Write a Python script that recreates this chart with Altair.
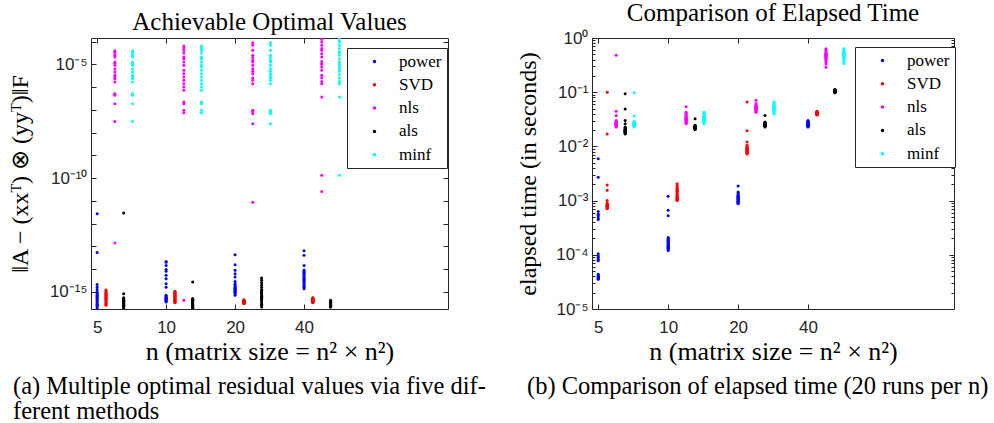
import altair as alt
import pandas as pd

N_VALUES = [5, 10, 20, 40]
METHODS = ["power", "SVD", "nls", "als", "minf"]
COLORS = ["#0000ff", "#ff0000", "#ff00ff", "#000000", "#00ffff"]

# ---- panel (a): log10 of the residual norm, 20 runs for n = 5, 10, 20, 40 ----
res_power = [
    [-11.57, -13.27, -14.68, -14.80, -14.90, -15.00, -15.05, -15.10, -15.15, -15.20, -15.25, -15.30, -15.35, -15.40, -15.45, -15.50, -15.55, -15.60, -15.65, -15.72],
    [-13.67, -13.70, -13.85, -14.02, -14.10, -14.27, -14.43, -14.65, -14.80, -15.16, -15.20, -15.25, -15.28, -15.30, -15.33, -15.36, -15.40, -15.42, -15.45, -15.30],
    [-13.37, -13.81, -14.06, -14.21, -14.35, -14.55, -14.65, -14.70, -14.80, -14.85, -14.90, -14.95, -15.00, -15.05, -15.10, -15.16, -14.75, -14.88, -14.97, -15.02],
    [-13.20, -13.40, -13.85, -14.05, -14.10, -14.15, -14.20, -14.30, -14.35, -14.45, -14.50, -14.60, -14.65, -14.75, -14.87, -14.25, -14.40, -14.55, -14.70, -14.80],
]
res_svd = [
    [-14.92, -14.96, -15.00, -15.04, -15.08, -15.12, -15.16, -15.20, -15.24, -15.28, -15.32, -15.36, -15.40, -15.44, -15.48, -15.52, -15.56, -15.60, -15.10, -15.30],
    [-14.98, -15.02, -15.05, -15.08, -15.10, -15.13, -15.16, -15.19, -15.22, -15.25, -15.28, -15.31, -15.34, -15.37, -15.40, -15.43, -15.46, -15.48, -15.20, -15.30],
    [-15.35, -15.37, -15.39, -15.40, -15.42, -15.43, -15.44, -15.45, -15.46, -15.47, -15.48, -15.49, -15.50, -15.51, -15.52, -15.53, -15.45, -15.47, -15.44, -15.50],
    [-15.26, -15.28, -15.30, -15.32, -15.33, -15.35, -15.36, -15.38, -15.39, -15.40, -15.41, -15.42, -15.43, -15.44, -15.45, -15.46, -15.47, -15.48, -15.34, -15.40],
]
res_nls = [
    [-4.40, -4.45, -4.49, -4.60, -4.68, -4.90, -4.95, -5.04, -5.20, -5.34, -5.48, -5.55, -5.63, -5.78, -6.29, -6.30, -6.36, -6.73, -7.51, -12.86],
    [-4.19, -4.28, -4.38, -4.50, -4.68, -4.75, -4.90, -5.04, -5.26, -5.41, -5.56, -5.70, -5.85, -6.00, -6.14, -6.66, -6.73, -7.02, -7.13, -15.38],
    [-4.05, -4.16, -4.38, -4.60, -4.70, -4.82, -4.90, -5.04, -5.19, -5.30, -5.41, -5.60, -5.70, -5.85, -7.02, -7.05, -7.10, -7.17, -7.61, -11.06],
    [-3.84, -3.90, -4.02, -4.16, -4.30, -4.38, -4.53, -4.68, -4.87, -4.97, -5.00, -5.12, -5.26, -5.48, -5.60, -5.75, -5.85, -6.44, -9.88, -10.59],
]
res_als = [
    [-11.54, -15.09, -15.26, -15.30, -15.35, -15.40, -15.45, -15.50, -15.55, -15.60, -15.65, -15.70, -15.75, -15.32, -15.42, -15.52, -15.62, -15.72, -15.38, -15.48],
    [-14.57, -15.30, -15.35, -15.40, -15.45, -15.50, -15.55, -15.60, -15.65, -15.70, -15.75, -15.33, -15.43, -15.53, -15.63, -15.73, -15.38, -15.48, -15.58, -15.68],
    [-14.40, -14.50, -14.60, -14.70, -14.80, -14.90, -15.00, -15.05, -15.10, -15.15, -15.20, -15.25, -15.30, -15.40, -15.50, -15.55, -15.60, -15.67, -14.95, -15.35],
    [-15.38, -15.40, -15.42, -15.44, -15.46, -15.48, -15.50, -15.52, -15.54, -15.56, -15.58, -15.60, -15.62, -15.64, -15.66, -15.67, -15.45, -15.53, -15.57, -15.61],
]
res_minf = [
    [-4.40, -4.45, -4.49, -4.60, -4.68, -4.90, -4.95, -5.00, -5.04, -5.20, -5.34, -5.48, -5.55, -5.63, -5.78, -6.29, -6.30, -6.36, -6.73, -7.51],
    [-4.19, -4.28, -4.38, -4.50, -4.68, -4.75, -4.90, -5.04, -5.10, -5.26, -5.41, -5.56, -5.70, -5.85, -6.00, -6.14, -6.66, -6.73, -7.02, -7.13],
    [-4.05, -4.16, -4.38, -4.60, -4.70, -4.82, -4.90, -5.04, -5.19, -5.30, -5.41, -5.50, -5.60, -5.70, -5.85, -7.02, -7.05, -7.10, -7.17, -7.61],
    [-3.84, -3.95, -4.02, -4.16, -4.30, -4.45, -4.50, -4.60, -4.75, -4.90, -5.00, -5.10, -5.20, -5.30, -5.45, -5.60, -5.75, -5.85, -6.44, -9.88],
]

# ---- panel (b): log10 of elapsed seconds, 20 runs for n = 5, 10, 20, 40 ----
time_power = [
    [-2.23, -2.57, -3.20, -3.25, -3.28, -3.32, -3.35, -3.98, -4.02, -4.05, -4.08, -4.11, -4.36, -4.38, -4.40, -4.41, -4.42, -4.43, -4.44, -4.45],
    [-2.92, -3.18, -3.28, -3.68, -3.70, -3.72, -3.74, -3.75, -3.76, -3.78, -3.79, -3.80, -3.82, -3.83, -3.84, -3.86, -3.87, -3.88, -3.90, -3.92],
    [-2.73, -2.84, -2.86, -2.88, -2.90, -2.92, -2.94, -2.95, -2.96, -2.97, -2.98, -2.99, -3.00, -3.01, -3.02, -3.03, -3.04, -3.05, -3.06, -2.93],
    [-1.52, -1.53, -1.54, -1.55, -1.56, -1.57, -1.58, -1.59, -1.60, -1.61, -1.62, -1.63, -1.64, -1.58, -1.60, -1.62, -1.61, -1.59, -1.57, -1.63],
]
time_svd = [
    [-1.00, -1.77, -2.71, -2.81, -3.00, -3.06, -3.07, -3.08, -3.09, -3.10, -3.11, -3.12, -3.13, -3.14, -3.15, -3.08, -3.10, -3.12, -3.05, -3.11],
    [-2.69, -2.72, -2.75, -2.78, -2.80, -2.82, -2.84, -2.86, -2.88, -2.90, -2.92, -2.94, -2.96, -2.98, -3.00, -2.95, -2.97, -2.99, -2.77, -2.83],
    [-1.18, -1.71, -1.92, -1.98, -2.00, -2.02, -2.03, -2.04, -2.05, -2.06, -2.07, -2.08, -2.09, -2.10, -2.11, -2.12, -2.13, -2.14, -2.05, -2.08],
    [-1.35, -1.36, -1.37, -1.38, -1.38, -1.39, -1.39, -1.40, -1.40, -1.41, -1.41, -1.42, -1.37, -1.38, -1.39, -1.40, -1.36, -1.41, -1.39, -1.38],
]
time_nls = [
    [-0.32, -1.35, -1.43, -1.52, -1.54, -1.55, -1.56, -1.57, -1.58, -1.59, -1.60, -1.61, -1.62, -1.63, -1.64, -1.56, -1.58, -1.60, -1.62, -1.57],
    [-1.27, -1.37, -1.39, -1.41, -1.43, -1.45, -1.47, -1.48, -1.49, -1.50, -1.51, -1.52, -1.53, -1.54, -1.55, -1.56, -1.57, -1.58, -1.50, -1.46],
    [-1.15, -1.21, -1.23, -1.25, -1.26, -1.27, -1.28, -1.29, -1.30, -1.31, -1.32, -1.33, -1.34, -1.35, -1.36, -1.37, -1.28, -1.30, -1.32, -1.25],
    [-0.20, -0.22, -0.24, -0.26, -0.28, -0.30, -0.31, -0.32, -0.33, -0.34, -0.35, -0.36, -0.37, -0.38, -0.40, -0.42, -0.44, -0.48, -0.54, -0.30],
]
time_als = [
    [-1.03, -1.31, -1.52, -1.58, -1.64, -1.65, -1.66, -1.67, -1.68, -1.69, -1.70, -1.71, -1.72, -1.73, -1.74, -1.75, -1.76, -1.77, -1.70, -1.72],
    [-1.49, -1.61, -1.62, -1.63, -1.63, -1.64, -1.64, -1.65, -1.65, -1.66, -1.66, -1.67, -1.67, -1.68, -1.68, -1.69, -1.62, -1.64, -1.66, -1.65],
    [-1.43, -1.55, -1.56, -1.57, -1.57, -1.58, -1.58, -1.59, -1.59, -1.60, -1.60, -1.61, -1.61, -1.62, -1.62, -1.63, -1.64, -1.58, -1.60, -1.59],
    [-0.95, -0.96, -0.96, -0.97, -0.97, -0.97, -0.98, -0.98, -0.98, -0.98, -0.99, -0.99, -0.99, -1.00, -1.00, -1.01, -0.97, -0.98, -0.99, -0.98],
]
time_minf = [
    [-1.01, -1.44, -1.54, -1.55, -1.56, -1.57, -1.58, -1.59, -1.60, -1.61, -1.62, -1.63, -1.64, -1.56, -1.58, -1.60, -1.62, -1.57, -1.59, -1.61],
    [-1.37, -1.39, -1.41, -1.43, -1.44, -1.45, -1.46, -1.47, -1.48, -1.49, -1.50, -1.51, -1.52, -1.53, -1.54, -1.55, -1.56, -1.58, -1.48, -1.50],
    [-1.18, -1.20, -1.22, -1.24, -1.25, -1.26, -1.27, -1.28, -1.29, -1.30, -1.31, -1.32, -1.33, -1.34, -1.35, -1.36, -1.38, -1.40, -1.28, -1.30],
    [-0.20, -0.22, -0.24, -0.25, -0.26, -0.27, -0.28, -0.29, -0.30, -0.31, -0.32, -0.33, -0.34, -0.35, -0.36, -0.38, -0.40, -0.43, -0.47, -0.29],
]

TITLE_A = "Achievable Optimal Values"
TITLE_B = "Comparison of Elapsed Time"
XTITLE = "n (matrix size = n² × n²)"
YTITLE_A = "‖A − (xxᵀ) ⊗ (yyᵀ)‖F"
YTITLE_B = "elapsed time (in seconds)"
CAPTION_A = "(a) Multiple optimal residual values via five dif-\nferent methods"
CAPTION_B = "(b) Comparison of elapsed time (20 runs per n)"

YMAJOR_A = [-15, -10, -5]
YMINOR_A = list(range(-16, -3))
YMAJOR_B = [-5, -4, -3, -2, -1, 0]

# ---- styling / layout ----
SERIF = "Liberation Serif"
SANS = "Liberation Sans"
INK = "#262626"
W_A, W_B, H = 357, 362, 271
X_DOMAIN = [4.7, 170]
Y_DOMAIN_A = [10 ** -15.76, 10 ** -3.84]
Y_DOMAIN_B = [1e-5, 1.0]
SHIFT = 1.093  # horizontal spread of the five methods around each n


def frame(series):
    rows = []
    for k, (method, lists) in enumerate(zip(METHODS, series)):
        for n, vals in zip(N_VALUES, lists):
            for v in vals:
                rows.append({"method": method, "x": n * SHIFT ** k, "value": 10 ** v})
    return pd.DataFrame(rows)


SUP = str.maketrans("-0123456789", "⁻⁰¹²³⁴⁵⁶⁷⁸⁹")


def label_expr(exps):
    expr = "''"
    for e in exps:
        expr = f"round(log(datum.value)/LN10) == {e} ? '10{str(e).translate(SUP)}' : " + expr
    return expr


def panel(df, width, y_domain, major, minor, ytitle, title, caption, legend_x, legend_y,
          ytitle_pad, caption_x, minor_size):
    xs = alt.Scale(type="log", base=2, domain=X_DOMAIN, nice=False)
    ys = alt.Scale(type="log", domain=y_domain, nice=False)
    major_vals = [10.0 ** e for e in major]
    legend = alt.Legend(
        title=None, orient="none", legendX=legend_x, legendY=legend_y,
        strokeColor=INK, fillColor="white", padding=5, rowPadding=5.3,
        symbolType="circle", symbolSize=12, symbolOffset=14, labelOffset=16,
        labelFont=SERIF, labelFontSize=17, labelColor="black",
        labelExpr="datum.label + '\u2005'",
    )
    points = alt.Chart(df).mark_circle(size=9, opacity=1, clip=True).encode(
        x=alt.X("x:Q", scale=xs, axis=alt.Axis(
            values=N_VALUES, format="d", title=XTITLE, orient="bottom", ticks=False,
            domain=False, grid=False, labelFont=SANS, labelFontSize=17, labelColor=INK,
            labelPadding=10, titleFont=SERIF, titleFontSize=26, titleFontWeight="normal",
            titleColor="black", titlePadding=3)),
        y=alt.Y("value:Q", scale=ys, axis=alt.Axis(
            values=major_vals, labelExpr=label_expr(major), title=ytitle, orient="left",
            ticks=False, domain=False, grid=False, labelFont=SANS, labelFontSize=17,
            labelColor=INK, labelPadding=4, titleFont=SERIF, titleFontSize=24,
            titleFontWeight="normal", titleColor="black", titlePadding=ytitle_pad)),
        color=alt.Color("method:N", scale=alt.Scale(domain=METHODS, range=COLORS),
                        legend=legend),
    )
    tick_size = {"condition": {"test": "abs(log(datum.value)/LN10 - round(log(datum.value)/LN10)) < 1e-6",
                               "value": 5}, "value": minor_size}

    def ticks(xorient, yorient, yoff):
        return alt.Chart(df).mark_circle(size=0, opacity=0).encode(
            x=alt.X("x:Q", scale=xs, axis=alt.Axis(
                orient=xorient, offset=-H, values=N_VALUES, labels=False, domain=False,
                grid=False, tickSize=5, tickColor=INK, tickWidth=1, title=None)),
            y=alt.Y("value:Q", scale=ys, axis=alt.Axis(
                orient=yorient, offset=yoff, values=minor, labels=False, domain=False,
                grid=False, tickSize=tick_size, tickColor=INK, tickWidth=1, title=None)),
        )

    cap = alt.Chart(pd.DataFrame({"caption": [caption]})).mark_text(
        align="left", baseline="alphabetic", font=SERIF, fontSize=24.5, lineBreak="\n",
        lineHeight=24.5, color="black",
    ).encode(text="caption:N", x=alt.value(caption_x), y=alt.value(H + 85))

    return alt.layer(points, ticks("top", "right", -width), ticks("bottom", "left", -width), cap).resolve_axis(
        x="independent", y="independent"
    ).properties(
        width=width, height=H,
        title=alt.TitleParams(title, font=SERIF, fontSize=25, fontWeight="normal",
                              color="black", offset=3, anchor="middle", frame="group"),
    )


minor_b = []
for d in range(-5, 0):
    minor_b += [k * 10.0 ** d for k in range(1, 10)]
minor_b.append(1.0)

left = panel(frame([res_power, res_svd, res_nls, res_als, res_minf]), W_A, Y_DOMAIN_A,
             YMAJOR_A, [10.0 ** e for e in YMINOR_A], YTITLE_A, TITLE_A, CAPTION_A,
             W_A - 101, 10, 17, -78, 5)
right = panel(frame([time_power, time_svd, time_nls, time_als, time_minf]), W_B, Y_DOMAIN_B,
              YMAJOR_B, minor_b, YTITLE_B, TITLE_B, CAPTION_B, W_B - 99, 9, 15, -65, 3)

chart = alt.hconcat(left, right, spacing=144, bounds="flush").resolve_scale(
    color="independent"
).resolve_legend(color="independent").properties(
    padding={"left": 7, "top": 0, "right": 0, "bottom": 0}, background="white"
).configure_view(stroke=INK, strokeWidth=1)

chart.save("out.html", embed_options={"renderer": "svg", "actions": False})
